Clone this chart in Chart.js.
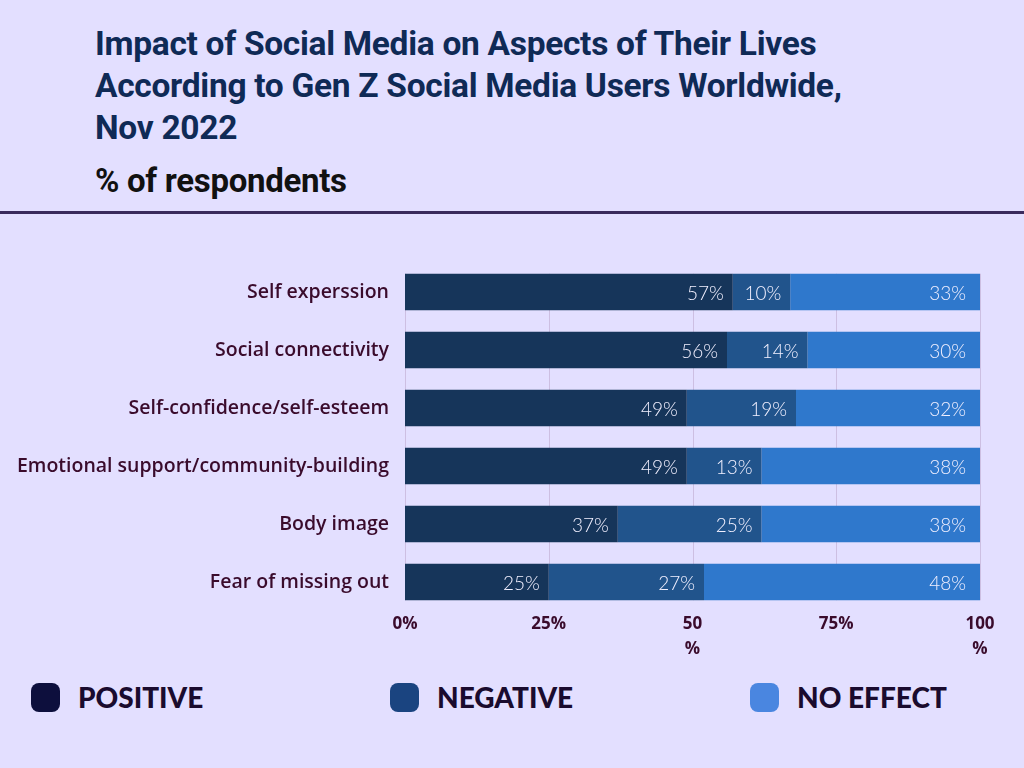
<!DOCTYPE html>
<html>
<head>
<meta charset="utf-8">
<script src="https://cdn.jsdelivr.net/npm/chart.js@4"></script>
<style>
  html, body { margin: 0; padding: 0; }
  body {
    width: 1024px;
    height: 768px;
    background: #e3dfff;
    position: relative;
    overflow: hidden;
    font-family: Roboto, "Open Sans", sans-serif;
  }
  #title {
    position: absolute;
    left: 95px;
    top: 23px;
    margin: 0;
    font-size: 33.5px;
    line-height: 42px;
    font-weight: 700;
    letter-spacing: -0.3px;
    color: #0f2a56;
  }
  #subtitle {
    position: absolute;
    left: 95px;
    top: 161px;
    margin: 0;
    font-size: 33px;
    font-weight: 700;
    letter-spacing: -0.3px;
    color: #111;
  }
  #rule {
    position: absolute;
    left: 0;
    top: 211px;
    width: 1024px;
    height: 3px;
    background: #3a2a5c;
  }
  #wrap {
    position: absolute;
    left: 0;
    top: 230px;
    width: 1024px;
    height: 440px;
  }
  .legend-item {
    position: absolute;
    top: 680px;
    display: flex;
    align-items: center;
    font-family: Lato, sans-serif;
    font-weight: 900;
    font-size: 28px;
    color: #1a0b2e;
  }
  .legend-item span.box {
    width: 29px;
    height: 29px;
    border-radius: 8px;
    margin-right: 18px;
    display: inline-block;
  }
</style>
</head>
<body>
<h1 id="title">Impact of Social Media on Aspects of Their Lives<br>According to Gen Z Social Media Users Worldwide,<br>Nov 2022</h1>
<h2 id="subtitle">% of respondents</h2>
<div id="rule"></div>
<div id="wrap"><canvas id="myChart" width="1024" height="440"></canvas></div>

<div class="legend-item" style="left:31px"><span class="box" style="background:#0d0f3d"></span>POSITIVE</div>
<div class="legend-item" style="left:390px"><span class="box" style="background:#1a4480"></span>NEGATIVE</div>
<div class="legend-item" style="left:750px"><span class="box" style="background:#4a86e0"></span>NO EFFECT</div>

<script>
const categories = [
  "Self experssion",
  "Social connectivity",
  "Self-confidence/self-esteem",
  "Emotional support/community-building",
  "Body image",
  "Fear of missing out",
];
const positive = [57, 56, 49, 49, 37, 25];
const negative = [10, 14, 19, 13, 25, 27];
const noEffect = [33, 30, 32, 38, 38, 48];
const tickValues = [0, 25, 50, 75, 100];

// vertical grid lines only between the first bar's top and the last bar's bottom
const shortGrid = {
  id: "shortGrid",
  beforeDatasetsDraw(chart) {
    const bars = chart.getDatasetMeta(0).data;
    if (!bars.length) return;
    const first = bars[0];
    const last = bars[bars.length - 1];
    const top = first.y - first.height / 2;
    const bottom = last.y + last.height / 2;
    const xScale = chart.scales.x;
    const ctx = chart.ctx;
    ctx.save();
    ctx.strokeStyle = "#cdbfe2";
    ctx.lineWidth = 1;
    tickValues.forEach((v) => {
      const x = Math.round(xScale.getPixelForValue(v)) + 0.5;
      ctx.beginPath();
      ctx.moveTo(x, top);
      ctx.lineTo(x, bottom);
      ctx.stroke();
    });
    ctx.restore();
  },
};

// labels at the right end of each segment
const segmentLabels = {
  id: "segmentLabels",
  afterDatasetsDraw(chart) {
    const ctx = chart.ctx;
    ctx.save();
    ctx.font = "300 19px Lato, sans-serif";
    ctx.fillStyle = "#f2f0ff";
    ctx.textAlign = "right";
    ctx.textBaseline = "middle";
    chart.data.datasets.forEach((ds, i) => {
      const meta = chart.getDatasetMeta(i);
      meta.data.forEach((bar, j) => {
        const pad = i === 2 ? 14 : 9;
        ctx.fillText(ds.data[j] + "%", bar.x - pad, bar.y + 2);
      });
    });
    ctx.restore();
  },
};

const drawChart = function () {
  const ctx = document.getElementById("myChart");

  new Chart(ctx, {
    type: "bar",
    plugins: [shortGrid, segmentLabels],
    data: {
      labels: categories,
      datasets: [
        { label: "Positive", data: positive, backgroundColor: "#16355a" },
        { label: "Negative", data: negative, backgroundColor: "#21548c" },
        { label: "No effect", data: noEffect, backgroundColor: "#2f78cc" },
      ],
    },
    options: {
      indexAxis: "y",
      responsive: false,
      animation: false,
      barPercentage: 0.63,
      categoryPercentage: 1,
      layout: {
        padding: { top: 33, right: 44, bottom: 0, left: 0 },
      },
      plugins: {
        legend: { display: false },
        tooltip: { enabled: false },
      },
      scales: {
        x: {
          stacked: true,
          min: 0,
          max: 100,
          afterBuildTicks: (scale) => {
            scale.ticks = tickValues.map((v) => ({ value: v }));
          },
          afterFit: (scale) => {
            scale.height = 59;
          },
          grid: { display: false, drawTicks: false },
          border: { display: false },
          ticks: {
            padding: 0,
            color: "#3a0b2c",
            font: { family: "'Open Sans', sans-serif", size: 17, weight: "bold", lineHeight: 1.5 },
            maxRotation: 0,
            callback: (v) => (v === 50 || v === 100 ? [String(v), "%"] : v + "%"),
          },
        },
        y: {
          stacked: true,
          afterFit: (scale) => {
            scale.width = 405;
          },
          grid: { display: false },
          border: { display: false },
          ticks: {
            padding: 8,
            color: "#3a0b2c",
            font: { family: "'Open Sans', sans-serif", size: 19.5, weight: "600" },
          },
        },
      },
    },
  });
};
drawChart();
</script>
</body>
</html>
